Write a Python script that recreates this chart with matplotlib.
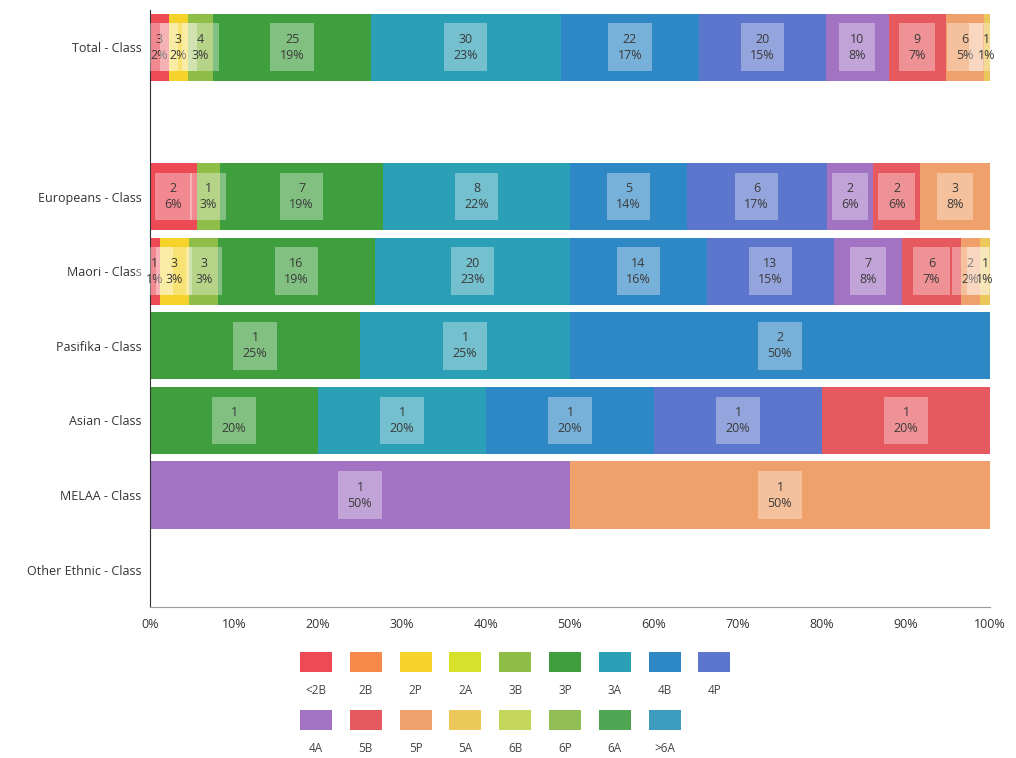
import matplotlib
matplotlib.use("Agg")
import matplotlib.pyplot as plt
from matplotlib.patches import Rectangle
import numpy as np

plt.rcParams['font.family'] = ['Open Sans', 'DejaVu Sans']

# Achievement levels (stacked in this order) and their colours
levels = ['<2B', '2B', '2P', '2A', '3B', '3P', '3A', '4B', '4P',
          '4A', '5B', '5P', '5A', '6B', '6P', '6A', '>6A']
level_colors = ['#ee4a55', '#f7894a', '#f5d32a', '#d7e02a', '#8fbe48', '#3f9f3f',
                '#2b9fb6', '#2f88c6', '#5b76cc', '#a273c2', '#e5595f', '#f0a06a',
                '#ecc75a', '#c3d65a', '#92bf55', '#4ea552', '#3d9bbd']

# Row labels (top to bottom); the blank entry is a spacer row
row_labels = ['Total - Class', '', 'Europeans - Class', 'Maori - Class',
              'Pasifika - Class', 'Asian - Class', 'MELAA - Class',
              'Other Ethnic - Class']

# Student counts per level for each group
total     = [3, 0, 3, 0, 4, 25, 30, 22, 20, 10, 9, 6, 1, 0, 0, 0, 0]
spacer    = [0] * 17
europeans = [2, 0, 0, 0, 1, 7, 8, 5, 6, 2, 2, 3, 0, 0, 0, 0, 0]
maori     = [1, 0, 3, 0, 3, 16, 20, 14, 13, 7, 6, 2, 1, 0, 0, 0, 0]
pasifika  = [0, 0, 0, 0, 0, 1, 1, 2, 0, 0, 0, 0, 0, 0, 0, 0, 0]
asian     = [0, 0, 0, 0, 0, 1, 1, 1, 1, 0, 1, 0, 0, 0, 0, 0, 0]
melaa     = [0, 0, 0, 0, 0, 0, 0, 0, 0, 1, 0, 1, 0, 0, 0, 0, 0]
other     = [0] * 17

rows = [total, spacer, europeans, maori, pasifika, asian, melaa, other]

W, H = 1016, 758
fig = plt.figure(figsize=(W / 100, H / 100), dpi=100)
ax = fig.add_axes([150 / W, 1 - 607 / H, 840 / W, 597 / H])

y = np.arange(len(rows))
for yi, counts in zip(y, rows):
    n = sum(counts)
    if n == 0:
        continue
    left = 0.0
    for lvl, c, col in zip(levels, counts, level_colors):
        if c == 0:
            continue
        frac = c / n * 100
        ax.barh(yi, frac, left=left, height=0.9, color=col, edgecolor='none')
        ax.text(left + frac / 2, yi, f"{c}\n{round(frac)}%",
                ha='center', va='center', fontsize=9, color='#3a3a3a',
                linespacing=1.3,
                bbox=dict(boxstyle='square,pad=0.75', fc='white', ec='none', alpha=0.35))
        left += frac

ax.set_xlim(0, 100)
ax.set_ylim(len(rows) - 0.5, -0.5)
ax.set_yticks(y)
ax.set_yticklabels(row_labels, fontsize=9, color='#333333')
ax.set_xticks(np.arange(0, 101, 10))
ax.set_xticklabels([f"{v}%" for v in range(0, 101, 10)], fontsize=9, color='#333333')
ax.tick_params(axis='both', length=0, pad=8)
ax.tick_params(axis='y', pad=6)
for s in ['top', 'right']:
    ax.spines[s].set_visible(False)
ax.spines['left'].set_color('#333333')
ax.spines['bottom'].set_color('#999999')

# Legend: swatches with labels underneath, two rows
ncol = 9
for i, (lvl, col) in enumerate(zip(levels, level_colors)):
    r, c = divmod(i, ncol)
    cx = 316 + 49.8 * c
    sy = 662 + 58 * r
    fig.add_artist(Rectangle(((cx - 16) / W, 1 - (sy + 10) / H), 32 / W, 20 / H,
                             transform=fig.transFigure, color=col, ec='none'))
    fig.text(cx / W, 1 - (sy + 28) / H, lvl, ha='center', va='center',
             fontsize=8.5, color='#444444')

fig.savefig('out.png', dpi=100, facecolor='white')
